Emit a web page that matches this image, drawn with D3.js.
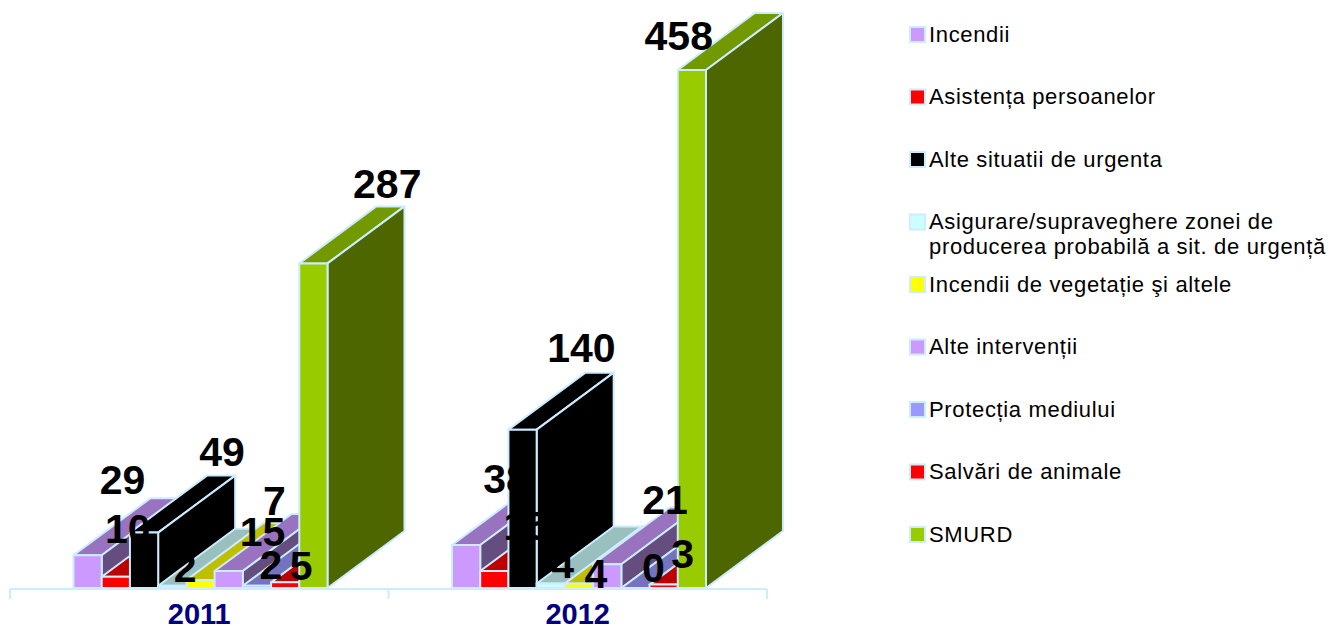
<!DOCTYPE html>
<html>
<head>
<meta charset="utf-8">
<script src="https://cdn.jsdelivr.net/npm/d3@7"></script>
<style>
    body { margin: 0; background: #fff; }
    text { font-family: "Liberation Sans", Arial, sans-serif; }
</style>
</head>
<body>
<div id="chart"></div>
<script>
'use strict';

let years = ['2011', '2012'];
let seriesNames = [
    'Incendii',
    'Asistența persoanelor',
    'Alte situatii de urgenta',
    'Asigurare/supraveghere zonei de producerea probabilă a sit. de urgență',
    'Incendii de vegetație şi altele',
    'Alte intervenții',
    'Protecția mediului',
    'Salvări de animale',
    'SMURD'
];
let values2011 = [29, 10, 49, 2, 7, 15, 2, 5, 287];
let values2012 = [38, 15, 140, 4, 4, 21, 0, 3, 458];
let colors = ['#CC99FF', '#FF0000', '#000000', '#CCFFFF', '#FFFF00', '#CC99FF', '#9999FF', '#FF0000', '#99CC00'];

// legend line breaks, the long entry wraps after "de"
let legendLines = [
    ['Incendii'],
    ['Asistența persoanelor'],
    ['Alte situatii de urgenta'],
    ['Asigurare/supraveghere zonei de', 'producerea probabilă a sit. de urgență'],
    ['Incendii de vegetație şi altele'],
    ['Alte intervenții'],
    ['Protecția mediului'],
    ['Salvări de animale'],
    ['SMURD']
];

// data labels were placed by hand in the original: offset from the bar's top left corner [dx, dy]
let labelNudge2011 = [[49, -61], [26, -34], [92, -67], [27, -4], [88, -65], [48, -25], [28, -7], [30, -2], [88, -65]];
let labelNudge2012 = [[54, -52], [46, -31], [73, -68], [26, -5], [31, 5], [72, -50], [32, -6], [33, -17], [1, -20]];

let width = 1330,
    height = 626;
let depthX = 77,
    depthY = 57;
let edge = '#CCECFF';

let svg = d3.select('#chart').append('svg')
    .attr('width', width)
    .attr('height', height)
    .style('display', 'block');

// scales
let x0 = d3.scaleBand().domain(years).range([10, 767]);
let x1 = d3.scaleBand().domain(d3.range(seriesNames.length)).range([63.5, 317.5]);
let y = d3.scaleLinear().domain([0, 458]).range([588, 70]);

let rows = seriesNames.map(function(name, i) {
    return [
        { year: years[0], value: values2011[i], nudge: labelNudge2011[i], color: colors[i] },
        { year: years[1], value: values2012[i], nudge: labelNudge2012[i], color: colors[i] }
    ];
});

function points(p) {
    return p.map(function(d) { return d.join(','); }).join(' ');
}

function barX(d, i) {
    return x0(d.year) + x1(i);
}

// axis
let axis = svg.append('g')
    .attr('transform', 'translate(0,' + y(0) + ')');

axis.append('line')
    .attr('x1', x0.range()[0])
    .attr('x2', x0.range()[1])
    .attr('y1', 1)
    .attr('y2', 1)
    .style('stroke', edge)
    .style('stroke-width', 2);

axis.selectAll('line.tick-mark')
    .data(years.concat(['end']))
    .enter().append('line')
    .attr('class', 'tick-mark')
    .attr('x1', function(d) { return d === 'end' ? x0.range()[1] : x0(d); })
    .attr('x2', function(d) { return d === 'end' ? x0.range()[1] : x0(d); })
    .attr('y1', 1)
    .attr('y2', 11)
    .style('stroke', edge)
    .style('stroke-width', 2);

axis.selectAll('text.year')
    .data(years)
    .enter().append('text')
    .attr('class', 'year')
    .attr('x', function(d) { return x0(d) + x0.bandwidth() / 2; })
    .attr('y', 36)
    .attr('text-anchor', 'middle')
    .style('font-size', '29px')
    .style('font-weight', 'bold')
    .style('fill', '#000080')
    .text(function(d) { return d; });

// bars, painted left to right so each one hides the side of the previous one
let barLayer = svg.append('g');

rows.forEach(function(row, i) {
    let w = x1.bandwidth();
    let shade = d3.color(colors[i]);

    let bars = barLayer.append('g').selectAll('g.bar')
        .data(row)
        .enter().append('g')
        .attr('class', 'bar');

    // top face
    bars.append('polygon')
        .attr('points', function(d) {
            let l = barX(d, i), t = y(d.value);
            return points([[l, t], [l + w, t], [l + w + depthX, t - depthY], [l + depthX, t - depthY]]);
        })
        .style('fill', d3.rgb(shade.r * 0.75, shade.g * 0.75, shade.b * 0.75));

    // side face
    bars.append('polygon')
        .attr('points', function(d) {
            let l = barX(d, i), t = y(d.value), b = y(0);
            return points([[l + w, t], [l + w + depthX, t - depthY], [l + w + depthX, b - depthY], [l + w, b]]);
        })
        .style('fill', d3.rgb(shade.r * 0.5, shade.g * 0.5, shade.b * 0.5));

    // front face
    bars.append('rect')
        .attr('x', function(d) { return barX(d, i); })
        .attr('y', function(d) { return y(d.value); })
        .attr('width', w)
        .attr('height', function(d) { return y(0) - y(d.value); })
        .style('fill', function(d) { return d.color; });

    bars.selectAll('polygon, rect')
        .style('stroke', edge)
        .style('stroke-width', 2)
        .style('stroke-linejoin', 'round');
});

// labels sit above every bar, they only vanish where black text meets the black bar
let labelLayer = svg.append('g');

rows.forEach(function(row, i) {
    labelLayer.append('g').selectAll('text')
        .data(row)
        .enter().append('text')
        .attr('x', function(d) { return barX(d, i) + d.nudge[0]; })
        .attr('y', function(d) { return y(d.value) + d.nudge[1]; })
        .attr('text-anchor', 'middle')
        .style('font-size', '41px')
        .style('font-weight', 'bold')
        .style('fill', '#000')
        .text(function(d) { return d.value; });
});

// legend
let legendY = d3.scalePoint().domain(d3.range(seriesNames.length)).range([34, 534]);

let legend = svg.append('g').selectAll('g')
    .data(legendLines)
    .enter().append('g')
    .attr('transform', function(d, i) { return 'translate(0,' + legendY(i) + ')'; });

legend.append('rect')
    .attr('x', 910)
    .attr('y', -7)
    .attr('width', 15)
    .attr('height', 15)
    .style('fill', function(d, i) { return colors[i]; })
    .style('stroke', edge)
    .style('stroke-width', 2);

legend.append('text')
    .style('font-size', '22px')
    .style('letter-spacing', '0.66px')
    .style('fill', '#000')
    .selectAll('tspan')
    .data(function(d) { return d; })
    .enter().append('tspan')
    .attr('x', 929)
    .attr('y', function(d, j) { return 7.5 + j * 25; })
    .text(function(d) { return d; });
</script>
</body>
</html>
